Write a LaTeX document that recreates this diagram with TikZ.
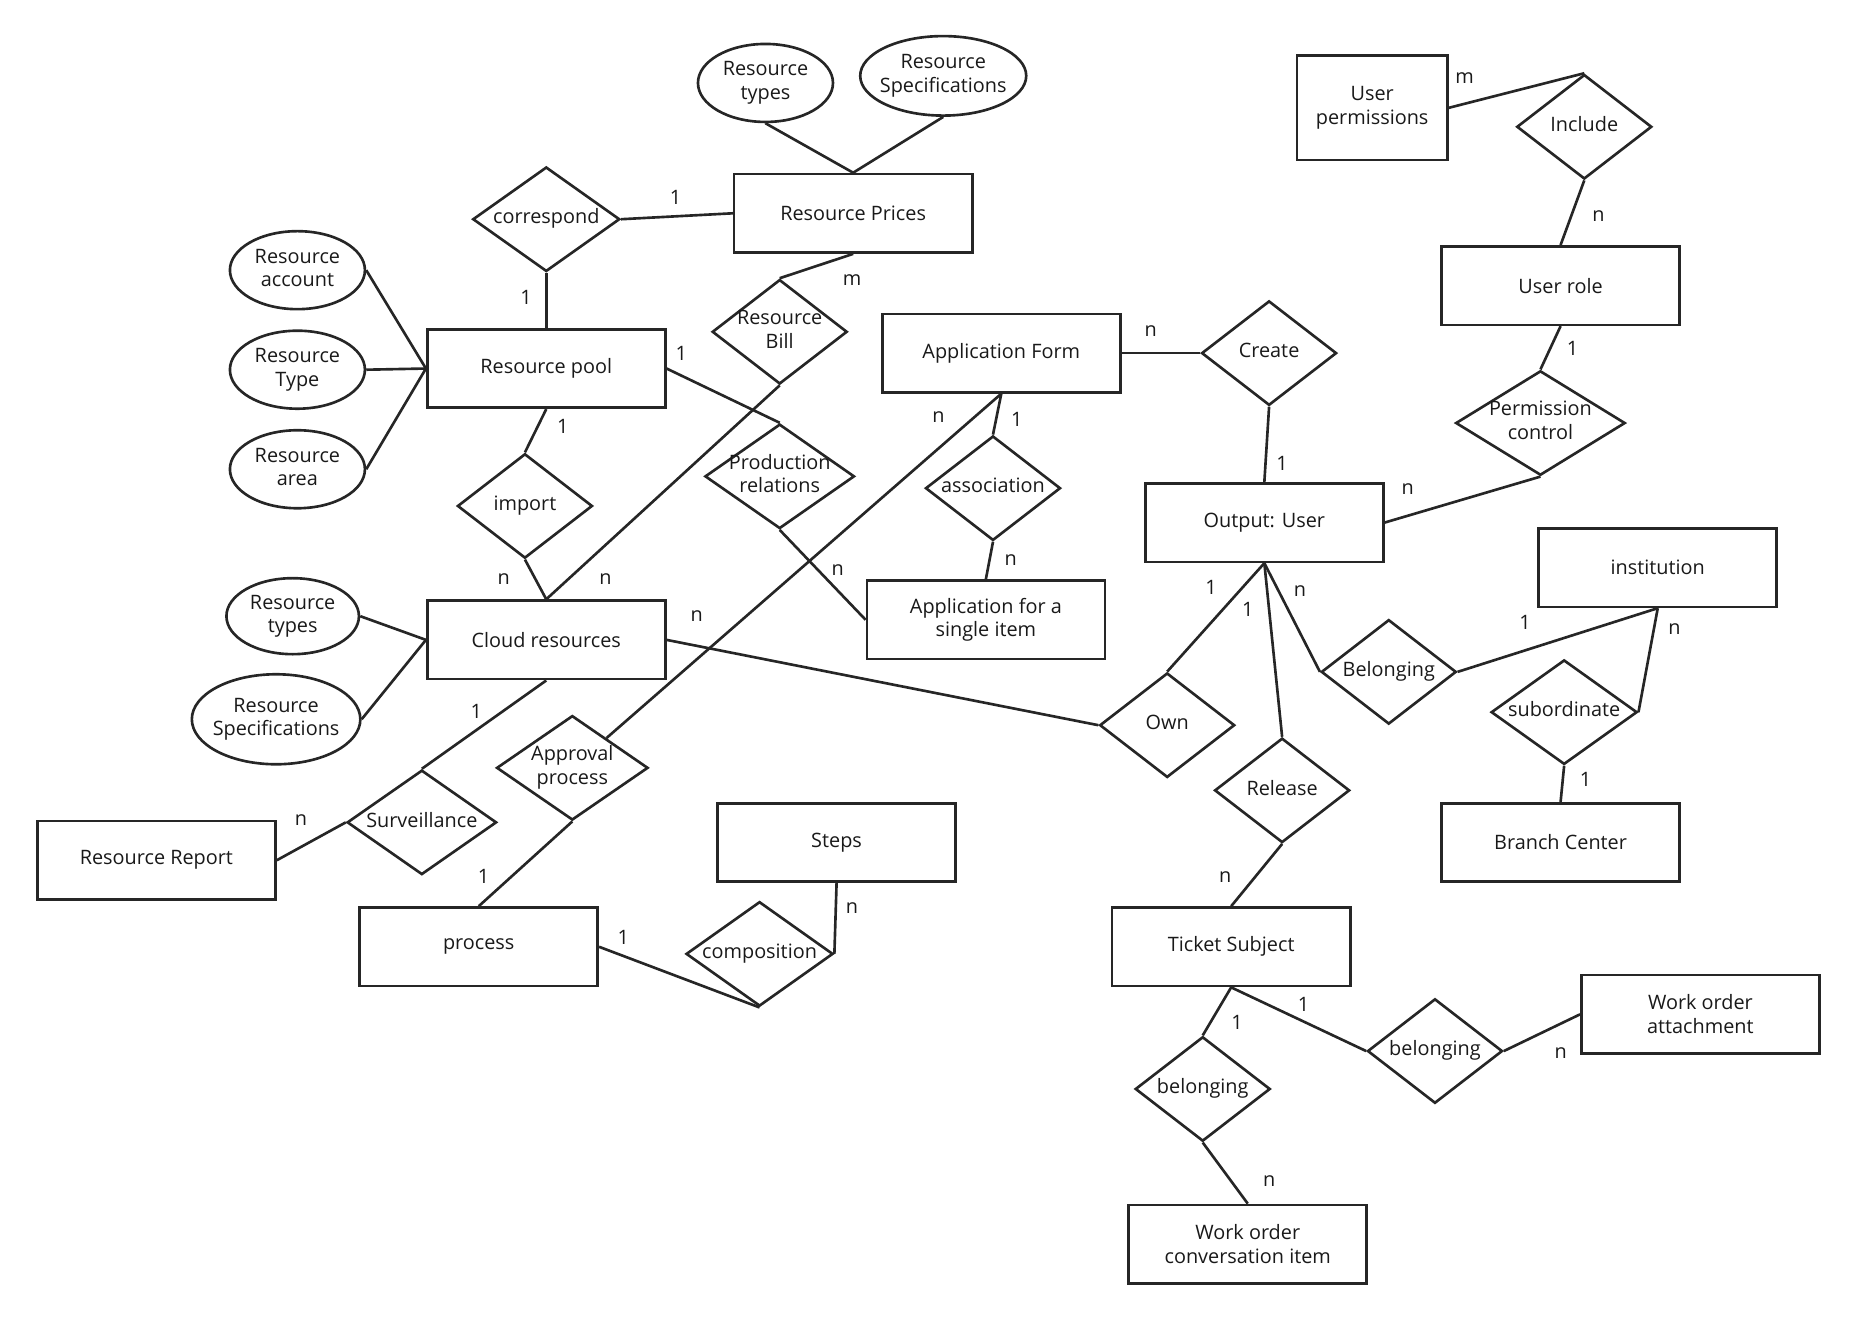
\documentclass[tikz,border=0pt]{standalone}
\usepackage{fontspec}
\setmainfont{Open Sans}
\usetikzlibrary{shapes.geometric}
\newcommand{\zw}[1]{\makebox[0pt]{\begin{tabular}{@{}c@{}}#1\end{tabular}}}

\begin{document}
\begin{tikzpicture}[
    x=0.0237cm, y=-0.0237cm,
    base/.style   = {draw=black!85, line width=1.5pt, text=black!90,
                     font=\fontsize{11.3}{13.5}\selectfont},
    entity/.style = {base, rectangle, minimum width=4.76cm, minimum height=1.57cm, align=center},
    attr/.style   = {base, ellipse, inner sep=0pt, minimum width=2.7cm, minimum height=1.56cm},
    rel/.style    = {base, diamond, inner sep=0pt, minimum width=2.7cm, minimum height=2.09cm},
    card/.style   = {font=\fontsize{11.3}{13.5}\selectfont, text=black!90, inner sep=1pt},
    link/.style   = {draw=black!85, line width=1.5pt}
]
\useasboundingbox (0,0) rectangle (1568,1115);
\node[entity] (prices) at (720,180)  {Resource Prices};
\node[entity] (pool)   at (461,311)  {Resource pool};
\node[entity] (cloud)  at (461,540)  {Cloud resources};
\node[entity] (form)   at (845,298)  {Application Form};
\node[entity] (single) at (832,523)  {Application for a\\single item};
\node[entity] (user)   at (1067,441) {Output: User};
\node[entity, minimum width=3.01cm, minimum height=2.09cm] (uperm) at (1158,91) {User\\permissions};
\node[entity] (role)   at (1317,241) {User role};
\node[entity] (inst)   at (1399,479) {institution};
\node[entity] (branch) at (1317,711) {Branch Center};
\node[entity] (report) at (132,726)  {Resource Report};
\node[entity] (steps)  at (706,711)  {Steps};
\node[entity] (proc)   at (404,799)  {process};
\node[entity] (ticket) at (1039,799) {Ticket Subject};
\node[entity] (attach) at (1435,856) {Work order\\attachment};
\node[entity] (conv)   at (1053,1050) {Work order\\conversation item};
\node[attr] (ptype) at (646,70) {\zw{Resource\\types}};
\node[attr, minimum width=3.32cm, minimum height=1.59cm] (pspec) at (796,64) {\zw{Resource\\Specifications}};
\node[attr] (acct)  at (251,228) {\zw{Resource\\account}};
\node[attr] (atype) at (251,312) {\zw{Resource\\Type}};
\node[attr] (area)  at (251,396) {\zw{Resource\\area}};
\node[attr, minimum width=2.65cm, minimum height=1.52cm] (ctype) at (247,520) {\zw{Resource\\types}};
\node[attr, minimum width=3.37cm, minimum height=1.8cm] (cspec) at (233,607) {\zw{Resource\\Specifications}};
\node[rel, minimum width=2.94cm] (corr) at (461,185) {\zw{correspond}};
\node[rel] (bill)    at (658,280)  {\zw{Resource\\Bill}};
\node[rel] (import)  at (443,427)  {\zw{import}};
\node[rel, minimum width=2.99cm] (prod) at (658,402) {\zw{Production\\relations}};
\node[rel] (assoc)   at (838,412)  {\zw{association}};
\node[rel] (create)  at (1071,298) {\zw{Create}};
\node[rel] (incl)    at (1337,107) {\zw{Include}};
\node[rel, minimum width=3.39cm] (permc) at (1300,357) {\zw{Permission\\control}};
\node[rel] (belong)  at (1172,567) {\zw{Belonging}};
\node[rel, minimum width=2.92cm] (subord) at (1320,601) {\zw{subordinate}};
\node[rel] (own)     at (985,612)  {\zw{Own}};
\node[rel] (release) at (1082,667) {\zw{Release}};
\node[rel, minimum width=2.99cm] (surv) at (356,694) {\zw{Surveillance}};
\node[rel, minimum width=3.03cm] (appr) at (483,648) {\zw{Approval\\process}};
\node[rel, minimum width=2.94cm] (comp) at (641,805) {\zw{composition}};
\node[rel] (bconv)   at (1015,919) {\zw{belonging}};
\node[rel] (battach) at (1211,887) {\zw{belonging}};
\node[card] (c1)  at (570,167)  {1};
\node[card] (c2)  at (444,251)  {1};
\node[card] (c3)  at (719,236)  {m};
\node[card] (c4)  at (575,298)  {1};
\node[card] (c5)  at (475,360)  {1};
\node[card] (c6)  at (425,489)  {n};
\node[card] (c7)  at (511,489)  {n};
\node[card] (c8)  at (707,481)  {n};
\node[card] (c9)  at (792,352)  {n};
\node[card] (c10) at (858,354)  {1};
\node[card] (c11) at (853,473)  {n};
\node[card] (c12) at (971,279)  {n};
\node[card] (c13) at (1082,391) {1};
\node[card] (c14) at (1188,413) {n};
\node[card] (c15) at (1327,294) {1};
\node[card] (c16) at (1349,182) {n};
\node[card] (c17) at (1236,66)  {m};
\node[card] (c18) at (1022,496) {1};
\node[card] (c19) at (1053,514) {1};
\node[card] (c20) at (1097,499) {n};
\node[card] (c21) at (1287,525) {1};
\node[card] (c22) at (1413,531) {n};
\node[card] (c23) at (1338,658) {1};
\node[card] (c24) at (588,520)  {n};
\node[card] (c25) at (402,600)  {1};
\node[card] (c26) at (254,692)  {n};
\node[card] (c27) at (408,740)  {1};
\node[card] (c28) at (526,791)  {1};
\node[card] (c29) at (719,766)  {n};
\node[card] (c30) at (1034,740) {n};
\node[card] (c31) at (1044,863) {1};
\node[card] (c32) at (1100,848) {1};
\node[card] (c33) at (1317,889) {n};
\node[card] (c34) at (1071,997) {n};
\draw[link] (ptype.south) -- (prices.north);
\draw[link] (pspec.south) -- (prices.north);
\draw[link] (corr.east) -- (prices.west);
\draw[link] (corr.south) -- (pool.north);
\draw[link] (prices.south) -- (bill.north);
\draw[link] (bill.south) -- (cloud.north);
\draw[link] (pool.east) -- (prod.north);
\draw[link] (prod.south) -- (single.west);
\draw[link] (pool.south) -- (import.north);
\draw[link] (import.south) -- (cloud.north);
\draw[link] (acct.east) -- (pool.west);
\draw[link] (atype.east) -- (pool.west);
\draw[link] (area.east) -- (pool.west);
\draw[link] (ctype.east) -- (cloud.west);
\draw[link] (cspec.east) -- (cloud.west);
\draw[link] (form.east) -- (create.west);
\draw[link] (create.south) -- (user.north);
\draw[link] (form.south) -- (assoc.north);
\draw[link] (assoc.south) -- (single.north);
\draw[link] (form.south) -- (appr);
\draw[link] (appr.south) -- (proc.north);
\draw[link] (cloud.south) -- (surv.north);
\draw[link] (surv.west) -- (report.east);
\draw[link] (cloud.east) -- (own.west);
\draw[link] (proc.east) -- (comp.south);
\draw[link] (comp.east) -- (steps.south);
\draw[link] (user.east) -- (permc.south);
\draw[link] (permc.north) -- (role.south);
\draw[link] (role.north) -- (incl.south);
\draw[link] (incl.north) -- (uperm.east);
\draw[link] (user.south) -- (own.north);
\draw[link] (user.south) -- (release.north);
\draw[link] (user.south) -- (belong.west);
\draw[link] (belong.east) -- (inst.south);
\draw[link] (subord.east) -- (inst.south);
\draw[link] (subord.south) -- (branch.north);
\draw[link] (release.south) -- (ticket.north);
\draw[link] (ticket.south) -- (bconv.north);
\draw[link] (ticket.south) -- (battach.west);
\draw[link] (battach.east) -- (attach.west);
\draw[link] (bconv.south) -- (conv.north);
\end{tikzpicture}
\end{document}
